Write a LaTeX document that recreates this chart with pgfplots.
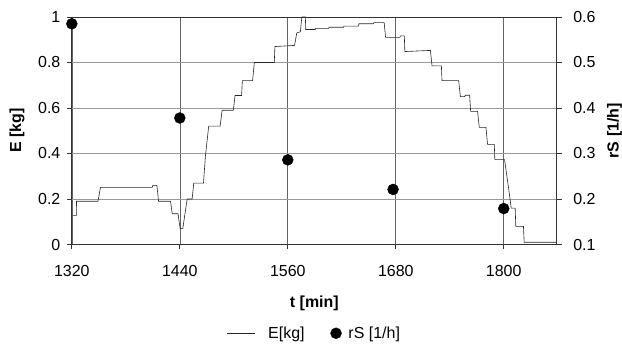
\documentclass[border=0pt]{standalone}
\usepackage{fontspec}
\setmainfont{Liberation Sans}
\usepackage{pgfplots}
\pgfplotsset{compat=1.18}
\pgfplotsset{lineleg/.style={legend image code/.code={\draw[##1] (0bp,0bp) -- (28bp,0bp); \path (34bp,0bp);}}}
\begin{document}
\begin{tikzpicture}
\pgfplotsset{
  every axis/.append style={
    width=486bp, height=228bp, scale only axis,
    xmin=1320, xmax=1859,
    tick align=outside, major tick length=5bp,
    tick style={black!80, line width=0.7bp},
    axis line style={black!80, line width=0.8bp},
    ticklabel style={font=\fontsize{16bp}{19bp}\selectfont},
    label style={font=\fontsize{16bp}{19bp}\selectfont\bfseries, inner sep=0pt},
    /pgf/number format/assume math mode=true,
    /pgf/number format/1000 sep={},
  }
}
\begin{axis}[
  ymin=0, ymax=1,
  xtick={1320,1440,1560,1680,1800},
  ytick={0,0.2,0.4,0.6,0.8,1},
  xtick pos=lower, ytick pos=left,
  xticklabel style={yshift=-12bp},
  yticklabel style={xshift=-3bp},
  grid=major,
  x grid style={black!60, line width=0.6bp},
  y grid style={black!40, line width=0.6bp},
  xlabel={t [min]},
  ylabel={E [kg]},
  xlabel style={at={(axis description cs:0.5,-0.259)}, anchor=center},
  ylabel style={at={(axis description cs:-0.113,0.5)}, anchor=center},
  legend style={at={(axis description cs:0.5,-0.39)}, anchor=center, draw=none,
    inner sep=0pt,
    font=\fontsize{16bp}{19bp}\selectfont, legend columns=2,
    /tikz/every odd column/.append style={column sep=5bp},
    /tikz/every even column/.append style={column sep=24bp}},
]
\addplot[black!85, line width=0.6bp, lineleg] coordinates {
(1320.8,0.127)(1325.0,0.127)(1325.2,0.19)(1349.1,0.19)(1351.8,0.251)(1409.4,0.251)
(1410,0.26)(1414.5,0.26)(1416.4,0.19)(1429.7,0.19)(1431.6,0.135)(1438,0.135)
(1440.4,0.07)(1443.3,0.07)(1448.2,0.2)(1453.7,0.2)(1455.5,0.27)(1466.3,0.27)
(1468.5,0.39)(1472.1,0.52)(1484.8,0.52)(1487.0,0.59)(1499.5,0.59)(1501.4,0.655)
(1508.7,0.655)(1509.5,0.72)(1520.9,0.72)(1522.8,0.8)(1545,0.8)(1545.7,0.87)
(1567.5,0.875)(1570,0.93)(1574,0.935)(1575.6,1.0)(1579.5,1.0)(1580.0,0.945)
(1590.5,0.945)(1591.1,0.95)(1605.3,0.95)(1605.9,0.955)(1622,0.955)(1622.5,0.96)
(1638.5,0.96)(1639.1,0.97)(1655,0.97)(1655.7,0.975)(1667.1,0.975)(1668.7,0.91)
(1684.5,0.91)(1685.3,0.917)(1689.5,0.917)(1690.1,0.848)(1718.5,0.853)(1720.3,0.785)
(1730.7,0.785)(1731.4,0.72)(1749.9,0.72)(1751.8,0.65)(1756.5,0.65)(1757.3,0.656)
(1762.1,0.656)(1763.2,0.585)(1770.9,0.585)(1772.8,0.515)(1780.2,0.515)(1782,0.44)
(1789.5,0.44)(1790.1,0.373)(1800.9,0.373)(1806.1,0.227)(1808.3,0.16)(1812.7,0.16)
(1813.4,0.08)(1821.9,0.08)(1822.7,0.01)(1859,0.01)
};
\addlegendentry{E[kg]}
\addlegendimage{only marks, mark=*, black, mark size=5.5bp}
\addlegendentry{rS [1/h]}
\end{axis}
\begin{axis}[
  ymin=0.1, ymax=0.6,
  axis y line*=right, axis x line=none,
  ytick={0.1,0.2,0.3,0.4,0.5,0.6},
  yticklabels={0.1,0.2,0.3,0.4,0.5,0.6},
  yticklabel style={xshift=8bp},
  ylabel={rS [1/h]},
  ylabel style={at={(axis description cs:1.119,0.5)}, anchor=center},
  clip=false,
]
\addplot[only marks, mark=*, black, mark size=5.5bp] coordinates {
(1320,0.585)(1440,0.378)(1560,0.286)(1677,0.221)(1800,0.179)
};
\path (axis description cs:-0.1481,-0.4474) (axis description cs:1.1317,1.0746);
\end{axis}
\end{tikzpicture}
\end{document}
